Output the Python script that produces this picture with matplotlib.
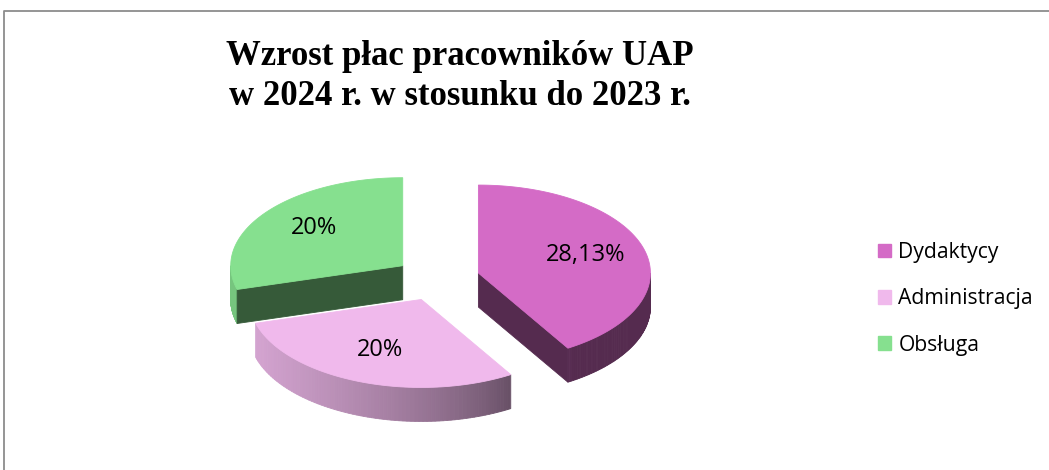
import numpy as np
import matplotlib.pyplot as plt
from matplotlib.patches import Polygon, Patch
from matplotlib.colors import to_rgb

# dane wykresu
kategorie = ["Dydaktycy", "Administracja", "Obsługa"]
wartosci = [28.13, 20, 20]
etykiety = ["28,13%", "20%", "20%"]
kolory = ["#D46BC6", "#F0B9EC", "#86E08F"]
tytul = ["Wzrost płac pracowników UAP", "w 2024 r. w stosunku do 2023 r."]

# geometria "3D" (piksele)
CX, CY = 437, 279
RX, RY = 172, 88
GRUBOSC = 34
ROZSUNIECIE = 0.25
R_ETYKIETY = 0.65


def punkt(cx, cy, kat, h=0.0):
    return cx + RX * np.cos(kat), cy - RY * np.sin(kat) + h


def cien(kolor, czynnik):
    return tuple(np.array(to_rgb(kolor)) * czynnik)


def cien_boku(kolor, kat):
    # bok oswietlony z lewej strony
    c = np.cos(kat)
    f = 0.4 + 0.48 * np.clip((0.55 - c) / 1.5, 0, 1) ** 0.7
    return cien(kolor, f)


fig = plt.figure(figsize=(10.49, 4.70), dpi=100)
ax = fig.add_axes([0, 0, 1, 1])
ax.set_xlim(0, 1049)
ax.set_ylim(470, 0)
ax.axis("off")

# ramka
ax.plot([4, 4, 1049], [470, 11, 11], color="#8c8c8c", lw=1.3)

# katy wycinkow (zgodnie z ruchem wskazowek zegara od godziny 12)
suma = sum(wartosci)
wycinki = []
start = np.pi / 2
for w in wartosci:
    koniec = start - 2 * np.pi * w / suma
    wycinki.append((koniec, start))
    start = koniec

# kolejnosc rysowania: od tylu do przodu
kolejnosc = [2, 0, 1]
for i in kolejnosc:
    t1, t2 = wycinki[i]
    srodek = (t1 + t2) / 2
    cx = CX + ROZSUNIECIE * RX * np.cos(srodek)
    cy = CY - ROZSUNIECIE * RY * np.sin(srodek)
    kolor = kolory[i]

    # bok zewnetrzny (widoczny tylko z przodu)
    for a0, a1 in [(-np.pi, 0), (np.pi, 2 * np.pi), (-3 * np.pi, -2 * np.pi)]:
        lo, hi = max(t1, a0), min(t2, a1)
        if hi <= lo:
            continue
        katy = np.linspace(lo, hi, 80)
        for a, b in zip(katy[:-1], katy[1:]):
            pts = [punkt(cx, cy, a), punkt(cx, cy, b),
                   punkt(cx, cy, b, GRUBOSC), punkt(cx, cy, a, GRUBOSC)]
            c = cien_boku(kolor, (a + b) / 2)
            ax.add_patch(Polygon(pts, closed=True, facecolor=c, edgecolor=c, lw=0.6))

    # boki promieniowe
    for kat, widoczny in [(t1, np.cos(t1) > 1e-6), (t2, np.cos(t2) < -1e-6)]:
        if not widoczny:
            continue
        x, y = punkt(cx, cy, kat)
        pts = [(cx, cy), (x, y), (x, y + GRUBOSC), (cx, cy + GRUBOSC)]
        c = cien(kolor, 0.4)
        ax.add_patch(Polygon(pts, closed=True, facecolor=c, edgecolor=c, lw=0.6))

    # gorna powierzchnia
    katy = np.linspace(t1, t2, 150)
    pts = [(cx, cy)] + [punkt(cx, cy, k) for k in katy]
    ax.add_patch(Polygon(pts, closed=True, facecolor=kolor, edgecolor=kolor, lw=0.6))

    # etykieta
    lx = cx + R_ETYKIETY * RX * np.cos(srodek)
    ly = cy - R_ETYKIETY * RY * np.sin(srodek) - 3
    ax.text(lx, ly, etykiety[i], ha="center", va="center", fontsize=17,
            family="Open Sans", color="black")

# tytul
for n, linia in enumerate(tytul):
    ax.text(460, 65 + 40 * n, linia, ha="center", va="baseline", fontsize=25,
            family="Liberation Serif", fontweight="bold")

# legenda
uchwyty = [Patch(facecolor=k, edgecolor=k) for k in kolory]
leg = ax.legend(uchwyty, kategorie, loc="center left", bbox_to_anchor=(0.837, 0.364),
                frameon=False, prop={"family": "Open Sans", "size": 15.2},
                handlelength=0.62, handleheight=0.62, handletextpad=0.35,
                labelspacing=1.2, borderpad=0, borderaxespad=0)

fig.savefig("out.png", dpi=100)
